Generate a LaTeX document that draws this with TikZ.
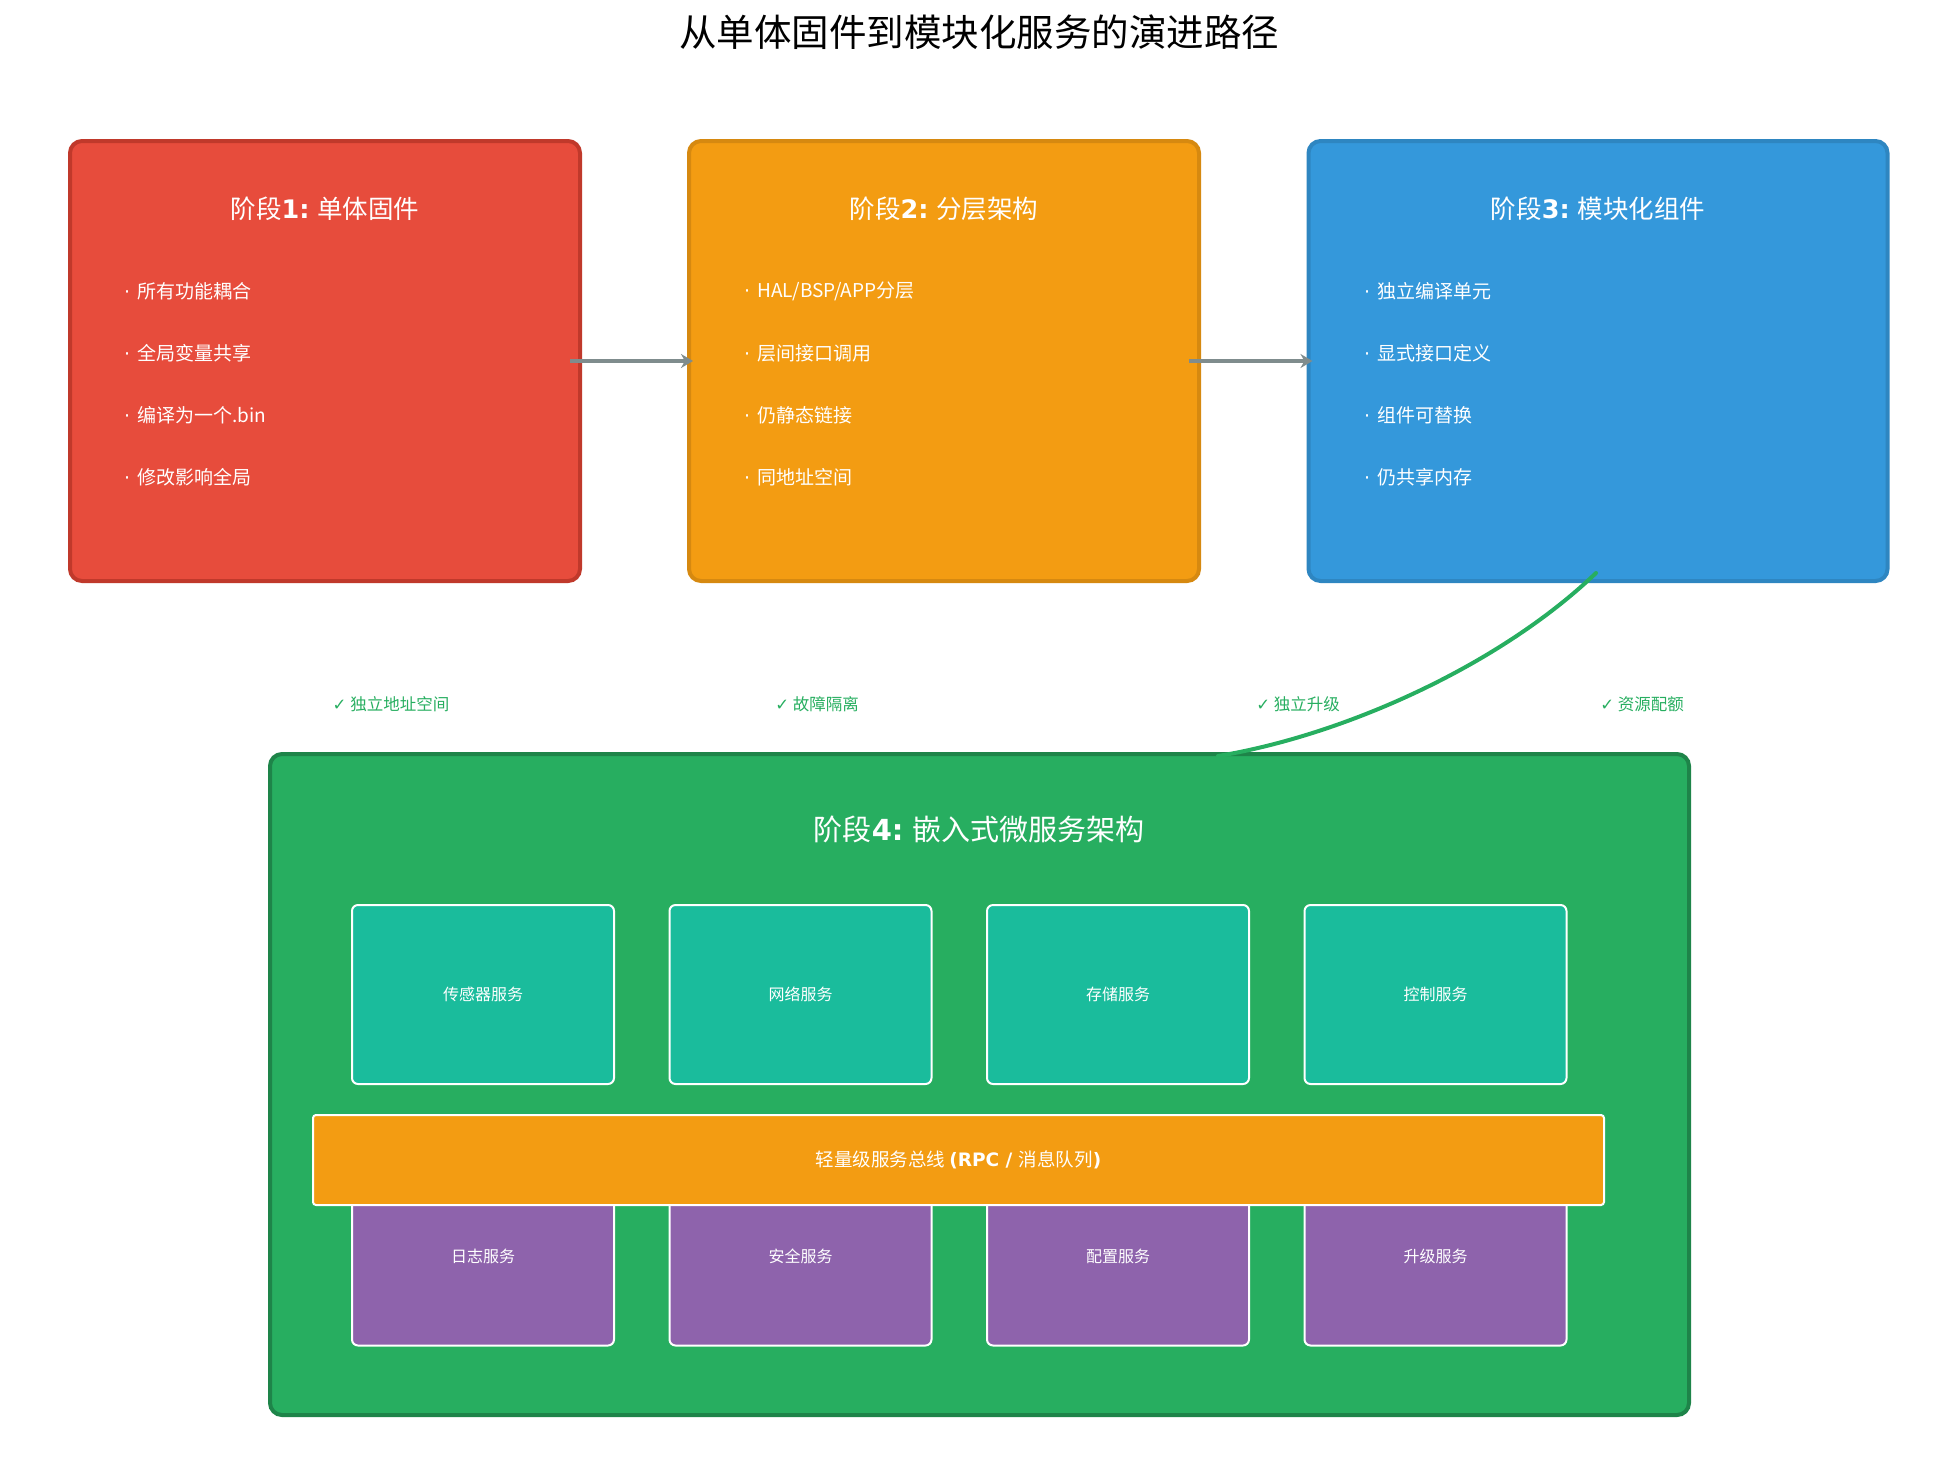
\documentclass[tikz,border=0pt]{standalone}
\usepackage{fontspec}
\setmainfont{Noto Sans CJK SC}
\newfontfamily\dvsans{DejaVu Sans}
\usetikzlibrary{positioning, arrows.meta}

\definecolor{monoRed}{HTML}{E74C3C}
\definecolor{monoRedDark}{HTML}{C0392B}
\definecolor{layerOrange}{HTML}{F39C12}
\definecolor{layerOrangeDark}{HTML}{D68910}
\definecolor{moduleBlue}{HTML}{3498DB}
\definecolor{moduleBlueDark}{HTML}{2E86C1}
\definecolor{microGreen}{HTML}{27AE60}
\definecolor{microGreenDark}{HTML}{1E8449}
\definecolor{svcTeal}{HTML}{1ABC9C}
\definecolor{svcPurple}{HTML}{8E63AC}
\definecolor{flowGray}{HTML}{7F8C8D}

\begin{document}
\begin{tikzpicture}[
    x=1pt, y=-1pt,
    stagebox/.style={rectangle, rounded corners=12pt, line width=4pt, minimum height=440pt, inner sep=0pt},
    stagetitle/.style={text=white, font=\fontsize{25.5}{30}\selectfont, anchor=center},
    bullet/.style={text=white, font=\fontsize{19}{23}\selectfont, anchor=west, inner sep=0pt},
    service/.style={rectangle, rounded corners=6pt, draw=white, line width=2pt, minimum width=262pt, minimum height=179pt, text=white, font=\fontsize{16}{20}\selectfont},
    benefit/.style={text=microGreen, font=\fontsize{16.5}{20}\selectfont},
    flow/.style={line width=4pt, draw=flowGray, -{Stealth[length=12pt, width=14pt]}},
    evolve/.style={line width=4pt, draw=microGreen, line cap=round}
]
\useasboundingbox (0,0) rectangle (1958,1478);

% Title
\node (title) at (979,32) {\fontsize{37.5}{44}\selectfont 从单体固件到模块化服务的演进路径};

% Stages 1-3
\node[stagebox, fill=monoRed, draw=monoRedDark, minimum width=510pt] (stage1) at (325,361) {};
\node[stagebox, fill=layerOrange, draw=layerOrangeDark, minimum width=510pt] (stage2) at (944,361) {};
\node[stagebox, fill=moduleBlue, draw=moduleBlueDark, minimum width=579pt] (stage3) at (1598,361) {};

\node[stagetitle] (title1) at (325,209) {阶段{\dvsans\bfseries 1:} 单体固件};
\node[stagetitle] (title2) at (944,209) {阶段{\dvsans\bfseries 2:} 分层架构};
\node[stagetitle] (title3) at (1598,209) {阶段{\dvsans\bfseries 3:} 模块化组件};

\foreach \txt [count=\i] in {所有功能耦合, 全局变量共享, 编译为一个.bin, 修改影响全局}
    \node[bullet] (bulletA\i) at (124,{291+62*(\i-1)}) {{\dvsans·}\hspace{7pt}\txt};
\foreach \txt [count=\i] in {HAL/BSP/APP分层, 层间接口调用, 仍静态链接, 同地址空间}
    \node[bullet] (bulletB\i) at (744,{291+62*(\i-1)}) {{\dvsans·}\hspace{7pt}\txt};
\foreach \txt [count=\i] in {独立编译单元, 显式接口定义, 组件可替换, 仍共享内存}
    \node[bullet] (bulletC\i) at (1364,{291+62*(\i-1)}) {{\dvsans·}\hspace{7pt}\txt};

% Benefits
\node[benefit] (gain1) at (391,704) {{\dvsans ✓} 独立地址空间};
\node[benefit] (gain2) at (817,704) {{\dvsans ✓} 故障隔离};
\node[benefit] (gain3) at (1298,704) {{\dvsans ✓} 独立升级};
\node[benefit] (gain4) at (1642,704) {{\dvsans ✓} 资源配额};

% Stage 4
\node[stagebox, fill=microGreen, draw=microGreenDark, minimum width=1419pt, minimum height=661pt] (stage4) at (979.5,1084.5) {};
\node[stagetitle, font=\fontsize{29}{34}\selectfont] (title4) at (979,829) {阶段{\dvsans\bfseries 4:} 嵌入式微服务架构};

\node[service, fill=svcTeal] (sensor) at (483,994.5) {传感器服务};
\node[service, fill=svcTeal, right=53.5pt of sensor] (network) {网络服务};
\node[service, fill=svcTeal, right=53.5pt of network] (storage) {存储服务};
\node[service, fill=svcTeal, right=53.5pt of storage] (control) {控制服务};

\node[service, fill=svcPurple] (logging) at (483,1256) {日志服务};
\node[service, fill=svcPurple, right=53.5pt of logging] (security) {安全服务};
\node[service, fill=svcPurple, right=53.5pt of security] (config) {配置服务};
\node[service, fill=svcPurple, right=53.5pt of config] (upgrade) {升级服务};

\node[service, fill=layerOrange, rounded corners=3pt, minimum width=1291pt, minimum height=90pt, font=\fontsize{18.5}{22}\selectfont] (bus) at (958.5,1160)
    {轻量级服务总线 {\dvsans\bfseries (RPC / }消息队列{\dvsans\bfseries )}};

% Edges
\draw[flow, shorten <=-12pt, shorten >=-6pt] (stage1.east) -- (stage2.west);
\draw[flow, shorten <=-12pt, shorten >=-6pt] (stage2.east) -- (stage3.west);
\coordinate (takeoff) at ([xshift=-2pt, yshift=10pt]stage3.south);
\coordinate (landing) at (1218,756);
\draw[evolve] (takeoff) .. controls (1500,665) and (1345,735) .. (landing);

\end{tikzpicture}
\end{document}
